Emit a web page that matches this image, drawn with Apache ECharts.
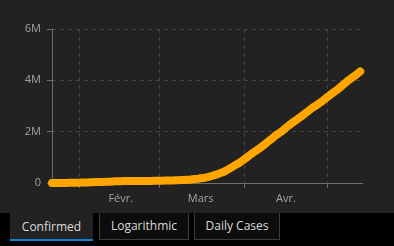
<!DOCTYPE html>
<html>
<head>
<meta charset="utf-8">
<script src="https://cdn.jsdelivr.net/npm/echarts@6/dist/echarts.min.js"></script>
<style>
html,body{margin:0;padding:0;background:#000;width:394px;height:246px;overflow:hidden;font-family:"Open Sans","Noto Sans",sans-serif;}
#chart{position:absolute;left:0;top:0;width:394px;height:213px;background:#222;}
.tab{position:absolute;top:213px;height:27px;box-sizing:border-box;color:#dcdcdc;font-size:12px;line-height:27px;text-align:center;}
#t1{left:10px;width:83px;background:#222;border-bottom:2px solid #0a84d8;line-height:28px;height:28px;}
#t2{left:99px;width:90px;border:1px solid #3c3c3c;border-top:none;background:#0c0c0c;line-height:26px;}
#t3{left:194px;width:86px;border:1px solid #3c3c3c;border-top:none;background:#0c0c0c;line-height:26px;}
</style>
</head>
<body>
<div id="chart"></div>
<div class="tab" id="t1">Confirmed</div>
<div class="tab" id="t2">Logarithmic</div>
<div class="tab" id="t3">Daily Cases</div>
<script>
// Global confirmed cases, daily from 2020-01-22 to 2020-05-13
var startDate = '2020-01-22';
var dayCount = 114; // axis runs to 2020-05-14
var confirmed = [
555,654,941,1434,2118,2927,5578,6166,8234,9927,
12038,16787,19887,23898,27643,30802,34395,37129,40160,42769,
44811,45229,60381,66909,69052,71235,73270,75152,75652,76212,
76841,78602,78982,79546,80399,81376,82736,84126,86013,88371,
90308,92844,95124,97886,101800,105836,109835,113582,118582,125865,
128343,145193,156097,167449,181531,197146,214910,242708,272166,304524,
335955,378287,418041,467653,529591,593291,660706,720117,782365,857487,
932605,1013157,1095917,1176060,1249754,1321481,1396476,1479804,1565278,1657526,
1735650,1834721,1904838,1976191,2056054,2152437,2240190,2317758,2401378,2472259,
2549123,2624085,2708885,2795733,2881140,2955033,3023722,3097229,3172287,3256846,
3343777,3427343,3506729,3583055,3662691,3755341,3845718,3938064,4024009,4101699,
4177502,4261747,4347018
];
var monthLabels = {1:'Févr.', 2:'Mars', 3:'Avr.'};
var yTicks = {0:'0', 2000000:'2M', 4000000:'4M', 6000000:'6M'};

var dates = [];
var d0 = new Date(startDate + 'T00:00:00Z');
for (var i = 0; i < dayCount; i++) {
  var d = new Date(d0.getTime() + i * 86400000);
  dates.push(d.toISOString().slice(0,10));
}
function isMonthStart(idx){ return dates[idx].slice(8,10) === '01'; }
function isMidMonth(idx){ return dates[idx].slice(8,10) === '16' && monthLabels[+dates[idx].slice(5,7)-1] !== undefined; }

var chart = echarts.init(document.getElementById('chart'));
chart.setOption({
  animation: false,
  backgroundColor: '#222',
  grid: {left: 52, right: 31, top: 29, bottom: 30},
  xAxis: {
    type: 'category',
    boundaryGap: false,
    data: dates,
    axisLine: {show: true, lineStyle: {color: '#6e6e6e', width: 1}},
    axisTick: {show: true, length: 5, interval: function(idx){ return isMonthStart(idx); }, lineStyle: {color: '#6e6e6e'}},
    splitLine: {show: true, interval: function(idx){ return isMonthStart(idx); }, lineStyle: {color: '#444', type: [4,4]}},
    axisLabel: {
      interval: function(idx){ return isMidMonth(idx); },
      formatter: function(v){ return monthLabels[+v.slice(5,7)-1]; },
      color: '#a3a3a3', fontSize: 11, margin: 10, fontFamily: 'Open Sans'
    }
  },
  yAxis: {
    type: 'value',
    min: 0, max: 6000000, interval: 2000000,
    axisLine: {show: true, lineStyle: {color: '#6e6e6e'}},
    axisTick: {show: true, length: 5, lineStyle: {color: '#6e6e6e'}},
    splitLine: {show: true, lineStyle: {color: '#444', type: [4,4]}},
    axisLabel: {
      formatter: function(v){ return yTicks[v]; },
      color: '#a3a3a3', fontSize: 11, margin: 11, fontFamily: 'Open Sans'
    }
  },
  series: [{
    type: 'line',
    data: confirmed,
    showSymbol: false,
    lineStyle: {color: '#ffa500', width: 8, cap: 'round', join: 'round'},
    itemStyle: {color: '#ffa500'}
  }]
});
</script>
</body>
</html>
